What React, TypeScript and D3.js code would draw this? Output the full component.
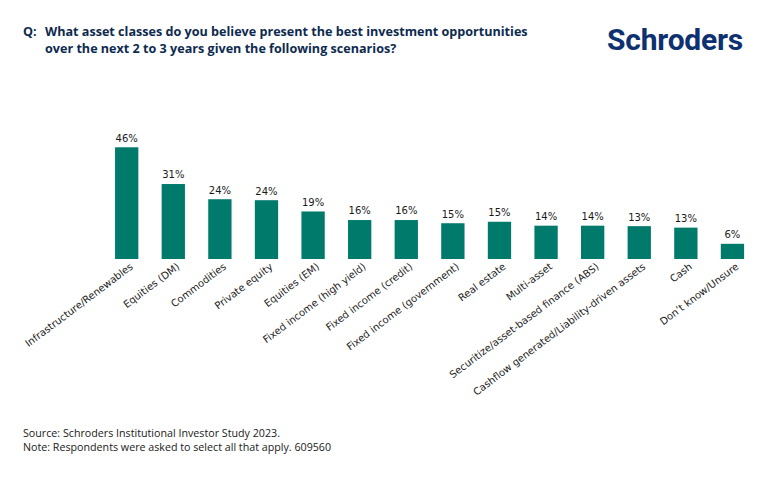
import React from "react";
import * as d3 from "d3";

const categories = [
  "Infrastructure/Renewables",
  "Equities (DM)",
  "Commodities",
  "Private equity",
  "Equities (EM)",
  "Fixed income (high yield)",
  "Fixed income (credit)",
  "Fixed income (government)",
  "Real estate",
  "Multi-asset",
  "Securitize/asset-based finance (ABS)",
  "Cashflow generated/Liability-driven assets",
  "Cash",
  "Don\u2019t know/Unsure",
];

const values = [45.6, 30.6, 24.4, 24.0, 19.4, 15.9, 15.9, 14.6, 15.2, 13.6, 13.6, 13.4, 12.8, 6.2];
const valueLabels = ["46%", "31%", "24%", "24%", "19%", "16%", "16%", "15%", "15%", "14%", "14%", "13%", "13%", "6%"];

const titleLines = [
  "What asset classes do you believe present the best investment opportunities",
  "over the next 2 to 3 years given the following scenarios?",
];
const footnotes = [
  "Source: Schroders Institutional Investor Study 2023.",
  "Note: Respondents were asked to select all that apply. 609560",
];

const W = 770;
const H = 492;
const BAR = "#007a6a";
const NAVY = "#0d2a4f";

export default function App() {
  const x = d3
    .scaleBand<string>()
    .domain(categories)
    .range([91.75, 767.4])
    .paddingInner(0.5)
    .paddingOuter(0.5);
  const y = d3.scaleLinear().domain([0, 50]).range([259, 259 - 50 * 2.45]);

  return (
    <svg
      width={W}
      height={H}
      style={{ position: "absolute", left: 0, top: 0, background: "#fff" }}
    >
      <rect width={W} height={H} fill="#fff" />
      <g fontFamily="'Open Sans', sans-serif" fontWeight={700} fontSize={12.6} fill={NAVY}>
        <text x={23} y={36}>Q:</text>
        {titleLines.map((t, i) => (
          <text key={i} x={45} y={36 + i * 16.5}>
            {t}
          </text>
        ))}
      </g>
      <text
        x={607}
        y={50}
        fontFamily="Roboto, sans-serif"
        fontWeight={700}
        fontSize={30}
        fill="#0e3170"
        letterSpacing={-0.2}
      >
        Schroders
      </text>

      {categories.map((c, i) => {
        const bx = x(c)!;
        const cx = bx + x.bandwidth() / 2;
        return (
          <g key={c}>
            <rect
              x={bx}
              y={y(values[i])}
              width={x.bandwidth()}
              height={y(0) - y(values[i])}
              fill={BAR}
            />
            <text
              x={cx}
              y={y(values[i]) - 5.6}
              textAnchor="middle"
              fontFamily="'DejaVu Sans', sans-serif"
              fontSize={10}
              fill="#1a1a1a"
            >
              {valueLabels[i]}
            </text>
            <text
              transform={`translate(${cx + 7},${268}) rotate(-37)`}
              textAnchor="end"
              fontFamily="'DejaVu Sans', sans-serif"
              fontSize={10}
              fill="#1a1a1a"
            >
              {c}
            </text>
          </g>
        );
      })}

      <g fontFamily="'Open Sans', sans-serif" fontSize={10.7} fill="#1a1a1a">
        {footnotes.map((t, i) => (
          <text key={i} x={23} y={437 + i * 14}>
            {t}
          </text>
        ))}
      </g>
    </svg>
  );
}
